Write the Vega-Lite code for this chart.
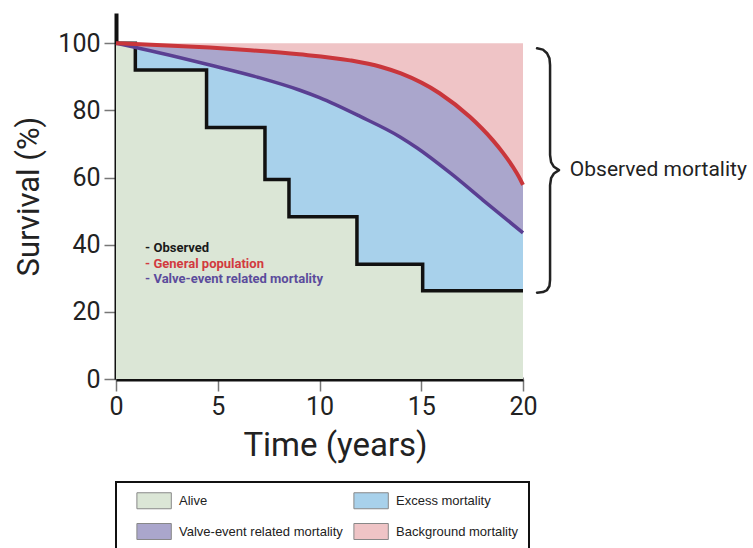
{
  "$schema": "https://vega.github.io/schema/vega-lite/v6.json",
  "width": 407,
  "height": 366,
  "autosize": {"type": "none"},
  "padding": {"left": 116, "top": 13, "right": 230, "bottom": 169},
  "background": "white",
  "config": {
    "view": {"stroke": null},
    "font": "Roboto",
    "axis": {"grid": false, "labelFlush": false, "domainColor": "#111", "domainWidth": 4, "tickColor": "#777", "tickWidth": 1.5, "tickSize": 12, "labelFont": "Roboto", "labelFontSize": 25, "labelColor": "#222", "titleFont": "Roboto", "titleFontWeight": "normal", "titleColor": "#222"},
    "legend": {"labelLimit": 400, "strokeWidth": 2, "strokeColor": "#111"}
  },
  "datasets": {
    "areas": [
      {"curve": "Upper", "region": "Background mortality", "time": 0, "survival": 100},
      {"curve": "Upper", "region": "Background mortality", "time": 20, "survival": 100},
      {"curve": "General population", "region": "Valve-event related mortality", "time": 0, "survival": 100},
      {"curve": "General population", "region": "Valve-event related mortality", "time": 2, "survival": 99.5},
      {"curve": "General population", "region": "Valve-event related mortality", "time": 4.6, "survival": 98.7},
      {"curve": "General population", "region": "Valve-event related mortality", "time": 6.6, "survival": 97.9},
      {"curve": "General population", "region": "Valve-event related mortality", "time": 9, "survival": 96.7},
      {"curve": "General population", "region": "Valve-event related mortality", "time": 11.5, "survival": 94.9},
      {"curve": "General population", "region": "Valve-event related mortality", "time": 13, "survival": 93.0},
      {"curve": "General population", "region": "Valve-event related mortality", "time": 14, "survival": 91.0},
      {"curve": "General population", "region": "Valve-event related mortality", "time": 15.9, "survival": 85.1},
      {"curve": "General population", "region": "Valve-event related mortality", "time": 17.4, "survival": 78.0},
      {"curve": "General population", "region": "Valve-event related mortality", "time": 18.5, "survival": 71.2},
      {"curve": "General population", "region": "Valve-event related mortality", "time": 19, "survival": 67.5},
      {"curve": "General population", "region": "Valve-event related mortality", "time": 19.5, "survival": 63.2},
      {"curve": "General population", "region": "Valve-event related mortality", "time": 19.8, "survival": 60.2},
      {"curve": "General population", "region": "Valve-event related mortality", "time": 20, "survival": 57.8},
      {"curve": "Valve-event", "region": "Excess mortality", "time": 0, "survival": 100},
      {"curve": "Valve-event", "region": "Excess mortality", "time": 0.93, "survival": 98.8},
      {"curve": "Valve-event", "region": "Excess mortality", "time": 4.62, "survival": 93.5},
      {"curve": "Valve-event", "region": "Excess mortality", "time": 7, "survival": 89.8},
      {"curve": "Valve-event", "region": "Excess mortality", "time": 9.04, "survival": 86.0},
      {"curve": "Valve-event", "region": "Excess mortality", "time": 10, "survival": 83.8},
      {"curve": "Valve-event", "region": "Excess mortality", "time": 12, "survival": 78.2},
      {"curve": "Valve-event", "region": "Excess mortality", "time": 13.96, "survival": 72.1},
      {"curve": "Valve-event", "region": "Excess mortality", "time": 14.8, "survival": 68.8},
      {"curve": "Valve-event", "region": "Excess mortality", "time": 16.5, "survival": 61.0},
      {"curve": "Valve-event", "region": "Excess mortality", "time": 18.03, "survival": 53.3},
      {"curve": "Valve-event", "region": "Excess mortality", "time": 20, "survival": 43.5},
      {"curve": "Observed", "region": "Alive", "time": 0, "survival": 100},
      {"curve": "Observed", "region": "Alive", "time": 0.95, "survival": 92.0},
      {"curve": "Observed", "region": "Alive", "time": 4.45, "survival": 74.9},
      {"curve": "Observed", "region": "Alive", "time": 7.32, "survival": 59.4},
      {"curve": "Observed", "region": "Alive", "time": 8.5, "survival": 48.3},
      {"curve": "Observed", "region": "Alive", "time": 11.84, "survival": 34.2},
      {"curve": "Observed", "region": "Alive", "time": 15.07, "survival": 26.3},
      {"curve": "Observed", "region": "Alive", "time": 20, "survival": 26.3}
    ],
    "notes": [
      {"note": "- Observed", "time": 1.43, "survival": 39.0},
      {"note": "- General population", "time": 1.43, "survival": 34.2},
      {"note": "- Valve-event related mortality", "time": 1.43, "survival": 29.7}
    ],
    "brace": [
      {"i": 1, "time": 20.69, "survival": 98.5},
      {"i": 2, "time": 20.98, "survival": 98.1},
      {"i": 3, "time": 21.18, "survival": 97.0},
      {"i": 4, "time": 21.3, "survival": 95.5},
      {"i": 5, "time": 21.33, "survival": 93.5},
      {"i": 6, "time": 21.33, "survival": 66.7},
      {"i": 7, "time": 21.38, "survival": 64.6},
      {"i": 8, "time": 21.52, "survival": 63.2},
      {"i": 9, "time": 21.77, "survival": 62.2},
      {"i": 10, "time": 21.52, "survival": 61.2},
      {"i": 11, "time": 21.38, "survival": 59.8},
      {"i": 12, "time": 21.33, "survival": 57.7},
      {"i": 13, "time": 21.33, "survival": 29.5},
      {"i": 14, "time": 21.3, "survival": 27.7},
      {"i": 15, "time": 21.18, "survival": 26.5},
      {"i": 16, "time": 20.98, "survival": 25.9},
      {"i": 17, "time": 20.69, "survival": 25.7}
    ],
    "label": [
      {"text": "Observed mortality", "time": 22.3, "survival": 62.2}
    ]
  },
  "encoding": {
    "x": {"field": "time", "type": "quantitative", "scale": {"domain": [0, 20], "nice": false, "zero": false},
      "axis": {"values": [0, 5, 10, 15, 20], "title": "Time (years)", "titleFontSize": 33, "labelPadding": 3, "titlePadding": 10, "titleX": 219}},
    "y": {"field": "survival", "type": "quantitative", "scale": {"domain": [0, 109], "nice": false},
      "axis": {"values": [0, 20, 40, 60, 80, 100], "title": "Survival (%)", "titleFontSize": 31, "labelPadding": 4, "titlePadding": 12}}
  },
  "layer": [
    {
      "data": {"name": "areas"},
      "transform": [{"filter": "datum.curve === 'Upper'"}],
      "mark": {"type": "area", "opacity": 1},
      "encoding": {
        "y": {"field": "survival", "type": "quantitative", "stack": null},
        "color": {"field": "region", "type": "nominal",
          "scale": {"domain": ["Alive", "Excess mortality", "Valve-event related mortality", "Background mortality"], "range": ["#dbe6d6", "#a8d1eb", "#aaa6cc", "#efc4c6"]},
          "legend": {"orient": "bottom", "direction": "horizontal", "columns": 2, "title": null,
            "symbolType": "M0.3,-1H4.6V1H0.3Z", "symbolSize": 256, "symbolStrokeColor": "#888", "symbolStrokeWidth": 1, "symbolOpacity": 1,
            "labelFont": "Liberation Sans", "labelFontSize": 13, "labelColor": "#222", "labelOffset": 36,
            "strokeColor": "#111", "padding": 10, "rowPadding": 10, "columnPadding": 0, "offset": 20}}
      }
    },
    {
      "data": {"name": "areas"},
      "transform": [{"filter": "datum.curve === 'General population'"}],
      "mark": {"type": "area", "interpolate": "monotone", "opacity": 1},
      "encoding": {
        "y": {"field": "survival", "type": "quantitative", "stack": null},
        "color": {"field": "region", "type": "nominal"}
      }
    },
    {
      "data": {"name": "areas"},
      "transform": [{"filter": "datum.curve === 'Valve-event'"}],
      "mark": {"type": "area", "interpolate": "monotone", "opacity": 1},
      "encoding": {
        "y": {"field": "survival", "type": "quantitative", "stack": null},
        "color": {"field": "region", "type": "nominal"}
      }
    },
    {
      "data": {"name": "areas"},
      "transform": [{"filter": "datum.curve === 'Observed'"}],
      "mark": {"type": "area", "interpolate": "step-after", "opacity": 1},
      "encoding": {
        "y": {"field": "survival", "type": "quantitative", "stack": null},
        "color": {"field": "region", "type": "nominal"}
      }
    },
    {
      "data": {"name": "areas"},
      "transform": [{"filter": "datum.curve === 'Observed'"}],
      "mark": {"type": "line", "interpolate": "step-after", "color": "#111", "strokeWidth": 3.5},
      "encoding": {}
    },
    {
      "data": {"name": "areas"},
      "transform": [{"filter": "datum.curve === 'Valve-event'"}],
      "mark": {"type": "line", "interpolate": "monotone", "color": "#5a3f92", "strokeWidth": 3.5},
      "encoding": {}
    },
    {
      "data": {"name": "areas"},
      "transform": [{"filter": "datum.curve === 'General population'"}],
      "mark": {"type": "line", "interpolate": "monotone", "color": "#c9363b", "strokeWidth": 4},
      "encoding": {}
    },
    {
      "data": {"name": "notes"},
      "transform": [{"filter": "datum.note === '- Observed'"}],
      "mark": {"type": "text", "align": "left", "baseline": "middle", "font": "Roboto", "fontWeight": "bold", "fontSize": 13, "color": "#1a1a1a"},
      "encoding": {"text": {"field": "note"}}
    },
    {
      "data": {"name": "notes"},
      "transform": [{"filter": "datum.note === '- General population'"}],
      "mark": {"type": "text", "align": "left", "baseline": "middle", "font": "Roboto", "fontWeight": "bold", "fontSize": 13, "color": "#d23a3f"},
      "encoding": {"text": {"field": "note"}}
    },
    {
      "data": {"name": "notes"},
      "transform": [{"filter": "datum.note === '- Valve-event related mortality'"}],
      "mark": {"type": "text", "align": "left", "baseline": "middle", "font": "Roboto", "fontWeight": "bold", "fontSize": 13, "color": "#5b4c9c"},
      "encoding": {"text": {"field": "note"}}
    },
    {
      "data": {"name": "brace"},
      "mark": {"type": "line", "color": "#222", "strokeWidth": 2.5, "strokeJoin": "round", "strokeCap": "round"},
      "encoding": {"order": {"field": "i", "type": "quantitative"}}
    },
    {
      "data": {"name": "label"},
      "mark": {"type": "text", "align": "left", "baseline": "middle", "font": "Roboto", "fontSize": 21, "color": "#222"},
      "encoding": {"text": {"field": "text"}}
    }
  ]
}
